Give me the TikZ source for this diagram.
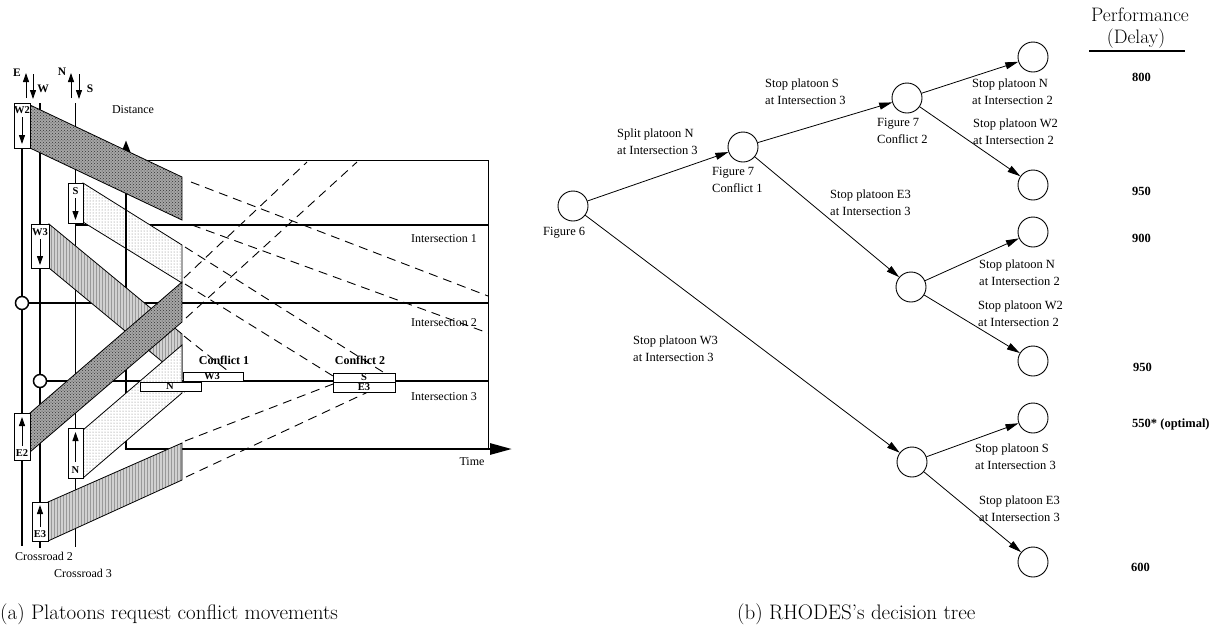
\documentclass[tikz,border=0pt]{standalone}
\usepackage{fontspec}
\newfontfamily\tms{Liberation Serif}
\usetikzlibrary{patterns,arrows.meta}
\newcommand\fsz[2]{\fontsize{#1}{#2}\selectfont}
\tikzset{
  road/.style={line width=1.5pt},
  frame/.style={line width=0.9pt},
  axis/.style={line width=2.8pt},
  traj/.style={line width=0.9pt, dash pattern=on 9pt off 6pt},
  darkband/.style={draw, line width=0.8pt, preaction={fill=black!35}, pattern=crosshatch dots, pattern color=black!80},
  medband/.style={draw, line width=0.8pt, preaction={fill=black!18}, pattern=vertical lines, pattern color=black!40},
  lightband/.style={draw, line width=0.8pt, preaction={fill=white}, pattern=dots, pattern color=black!55},
  pbox/.style={draw, line width=0.8pt, fill=white},
  plabel/.style={font=\tms\bfseries\fsz{10.5}{11}, inner sep=0pt},
  dirlabel/.style={font=\tms\bfseries\fsz{11.5}{12}, inner sep=0pt},
  small/.style={font=\tms\fsz{12}{14}, inner sep=0pt},
  cflabel/.style={font=\tms\bfseries\fsz{12}{13}, inner sep=0pt},
  pointer/.style={line width=0.9pt, -{Triangle[length=9pt,width=6pt]}},
  state/.style={circle, draw, line width=0.9pt, minimum size=30pt, inner sep=0pt},
  edge/.style={line width=0.8pt, -{Triangle[length=13pt,width=7pt]}},
  tlabel/.style={font=\tms\fsz{12.5}{17}, align=left, anchor=west, inner sep=0pt},
  value/.style={font=\tms\bfseries\fsz{12.5}{14}, anchor=west, inner sep=0pt},
  header/.style={font=\fsz{19.5}{21}, inner sep=0pt, anchor=base},
  caption/.style={font=\fsz{21}{24}, anchor=west, inner sep=0pt}
}
\begin{document}
\begin{tikzpicture}[x=1pt,y=-1pt]
\useasboundingbox (0,0) rectangle (1220,633);

% ---------- (a) time-space diagram ----------
% frame and intersection lines
\draw[frame] (126,160) -- (488,160) -- (488,449);
\draw[road] (75.5,225) -- (488,225);
\draw[road] (22,303) -- (488,303);
\draw[road] (40,381) -- (488,381);
% crossroads
\draw[road] (22,103) -- (22,546);
\draw[road] (40,103) -- (40,548);
\draw[road] (75.5,103) -- (75.5,547);

% direction arrows at the top
\draw[pointer] (26,98) -- (26,73);
\draw[pointer] (33,74) -- (33,99);
\draw[pointer] (71,98) -- (71,73);
\draw[pointer] (79,74) -- (79,99);
\node[dirlabel] (lE) at (17,73) {E};
\node[dirlabel] (lW) at (43,89) {W};
\node[dirlabel] (lN) at (62,72) {N};
\node[dirlabel] (lS) at (90,89) {S};

% trajectories continued past the bands
\draw[traj] (191,182) -- (488,296);
\draw[traj] (192,225) -- (488,333);
\draw[traj] (185,247) -- (383,372);
\draw[traj] (185,284) -- (333,376);
\draw[traj] (184,336) -- (228,371);
\draw[traj] (184,278) -- (307,162);
\draw[traj] (186,318) -- (357,162);
\draw[traj] (185,441) -- (333,384);
\draw[traj] (186,477) -- (368,392);
\draw[traj] (184,392) -- (199,384);

% southbound platoon S (drawn under the distance axis)
\path[lightband] (83,183) -- (182,245) -- (182,283) -- (83,222) -- cycle;

% axes
\draw[axis, -{Triangle[length=12pt,width=8pt]}] (126,449) -- (126,140);
\draw[axis, -{Triangle[length=22pt,width=11pt]}] (124.6,449) -- (512,449);

% platoon bands
\path[darkband] (30,105) -- (182,177) -- (182,220) -- (30,148) -- cycle;
\path[medband] (49,224) -- (182,334) -- (182,378) -- (49,268) -- cycle;
\path[lightband] (83,430) -- (182,345) -- (182,393) -- (83,478) -- cycle;
\path[darkband] (30,413) -- (182,282) -- (182,322) -- (30,452) -- cycle;
\path[medband] (48,502) -- (182,443) -- (182,480) -- (48,541) -- cycle;

% intersection markers
\draw[road, fill=white] (22,303) circle (6.5);
\draw[road, fill=white] (40,381) circle (6.5);

% platoon boxes on the crossroads
\draw[pbox] (14,103) rectangle (30,148);
\node[plabel] (tW2) at (22,110) {W2};
\draw[pointer] (22,117) -- (22,144);
\draw[pbox] (68,183) rectangle (83,223);
\node[plabel] (tS) at (75.5,191) {S};
\draw[pointer] (75.5,198) -- (75.5,220);
\draw[pbox] (31,224) rectangle (49,268);
\node[plabel] (tW3) at (40,232) {W3};
\draw[pointer] (40,239) -- (40,265);
\draw[pbox] (14,413) rectangle (30,460);
\node[plabel] (tE2) at (22,453) {E2};
\draw[pointer] (22,446) -- (22,417);
\draw[pbox] (68,428) rectangle (83,478);
\node[plabel] (tN) at (75.5,470) {N};
\draw[pointer] (75.5,462) -- (75.5,432);
\draw[pbox] (32,502) rectangle (48,541);
\node[plabel] (tE3) at (40,534) {E3};
\draw[pointer] (40,527) -- (40,505);

% conflict boxes
\draw[pbox] (183,372) rectangle (243,381);
\node[plabel] (cW3) at (212,376.5) {W3};
\draw[pbox] (140,382) rectangle (201,391);
\node[plabel] (cN) at (170,386.5) {N};
\draw[pbox] (333,373) rectangle (395,382);
\node[plabel] (cS) at (364,377.5) {S};
\draw[pbox] (333,382) rectangle (395,392);
\node[plabel] (cE3) at (364,387) {E3};
\node[cflabel] (cf1) at (224,360) {Conflict 1};
\node[cflabel] (cf2) at (360,360) {Conflict 2};

% labels
\node[small, anchor=east] (i1) at (477,239) {Intersection 1};
\node[small, anchor=east] (i2) at (477,323) {Intersection 2};
\node[small, anchor=east] (i3) at (477,397) {Intersection 3};
\node[small] (tm) at (472,462) {Time};
\node[small] (ds) at (133,110) {Distance};
\node[small, anchor=west] (cr2) at (15,556) {Crossroad 2};
\node[small, anchor=west] (cr3) at (54,573) {Crossroad 3};

% ---------- (b) decision tree ----------
\node[state] (root) at (573,206) {};
\node[state] (c1) at (743,147) {};
\node[state] (c2) at (907,98) {};
\node[state] (m) at (911,287) {};
\node[state] (w) at (912,462) {};
\node[state] (l1) at (1033,57) {};
\node[state] (l2) at (1033,185) {};
\node[state] (l3) at (1033,232) {};
\node[state] (l4) at (1033,361) {};
\node[state] (l5) at (1033,418) {};
\node[state] (l6) at (1033,562) {};

\draw[edge] (root) -- (c1);
\draw[edge] (c1) -- (c2);
\draw[edge] (c1) -- (m);
\draw[edge] (root) -- (w);
\draw[edge] (c2) -- (l1);
\draw[edge] (c2) -- (l2);
\draw[edge] (m) -- (l3);
\draw[edge] (m) -- (l4);
\draw[edge] (w) -- (l5);
\draw[edge] (w) -- (l6);

\node[tlabel] (f6) at (543,233) {Figure 6};
\node[tlabel] (f7a) at (712,180) {Figure 7\\Conflict 1};
\node[tlabel] (f7b) at (877,131) {Figure 7\\Conflict 2};
\node[tlabel] (e1) at (617,142) {Split platoon N\\at Intersection 3};
\node[tlabel] (e2) at (765,92) {Stop platoon S\\at Intersection 3};
\node[tlabel] (e3) at (830,203) {Stop platoon E3\\at Intersection 3};
\node[tlabel] (e4) at (633,349) {Stop platoon W3\\at Intersection 3};
\node[tlabel] (e5) at (972,92) {Stop platoon N\\at Intersection 2};
\node[tlabel] (e6) at (973,132) {Stop platoon W2\\at Intersection 2};
\node[tlabel] (e7) at (979,273) {Stop platoon N\\at Intersection 2};
\node[tlabel] (e8) at (978,314) {Stop platoon W2\\at Intersection 2};
\node[tlabel] (e9) at (975,457) {Stop platoon S\\at Intersection 3};
\node[tlabel] (e10) at (979,509) {Stop platoon E3\\at Intersection 3};

% performance column
\node[header] (perf) at (1140,21) {Performance};
\node[header] (dly) at (1136,43) {(Delay)};
\draw[line width=1.4pt] (1089,51) -- (1185,51);
\node[value] (v1) at (1132,77) {800};
\node[value] (v2) at (1132,191) {950};
\node[value] (v3) at (1132,238) {900};
\node[value] (v4) at (1133,367) {950};
\node[value] (v5) at (1132,424) {550* (optimal)};
\node[value] (v6) at (1131,567) {600};

% captions
\node[caption] (capa) at (0,614) {(a) Platoons request conflict movements};
\node[caption] (capb) at (737,614) {(b) RHODES's decision tree};
\end{tikzpicture}
\end{document}
